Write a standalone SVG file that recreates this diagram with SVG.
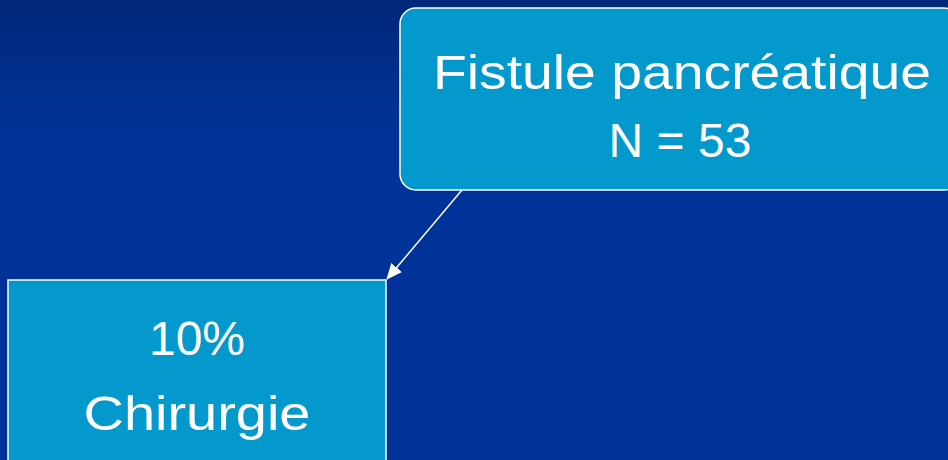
<svg xmlns="http://www.w3.org/2000/svg" width="948" height="460" viewBox="0 0 948 460">
  <defs>
    <linearGradient id="bg" x1="0" y1="0" x2="0" y2="1">
      <stop offset="0" stop-color="#00287a"/>
      <stop offset="0.3" stop-color="#003399"/>
      <stop offset="1" stop-color="#003399"/>
    </linearGradient>
    <marker id="arrow" markerWidth="16" markerHeight="14" refX="15" refY="7" orient="auto" markerUnits="userSpaceOnUse">
      <path d="M0,0 L16,7 L0,14 Z" fill="#ffffff"/>
    </marker>
    <style>
      .box { fill: #0399cc; stroke: #ffffff; stroke-width: 1.5; }
      .t { font-family: "Comic Sans MS", "Liberation Sans", sans-serif; font-size: 48px; fill: #ffffff; text-anchor: middle; }
      .conn { stroke: #ffffff; stroke-width: 1.5; fill: none; }
    </style>
  </defs>
  <rect x="0" y="0" width="948" height="460" fill="url(#bg)"/>
  <g id="connectors">
    <line class="conn" x1="462" y1="190" x2="387" y2="279" marker-end="url(#arrow)"/>
  </g>
  <g id="node-fistule">
    <rect class="box" x="400" y="8" width="560" height="182" rx="16" ry="16"/>
    <text class="t" x="682" y="89" textLength="498" lengthAdjust="spacingAndGlyphs">Fistule pancréatique</text>
    <text class="t" x="680" y="157">N = 53</text>
  </g>
  <g id="node-chirurgie">
    <rect class="box" x="8" y="280" width="378" height="200"/>
    <text class="t" x="197" y="355">10%</text>
    <text class="t" x="197" y="430" textLength="227" lengthAdjust="spacingAndGlyphs">Chirurgie</text>
  </g>
</svg>
